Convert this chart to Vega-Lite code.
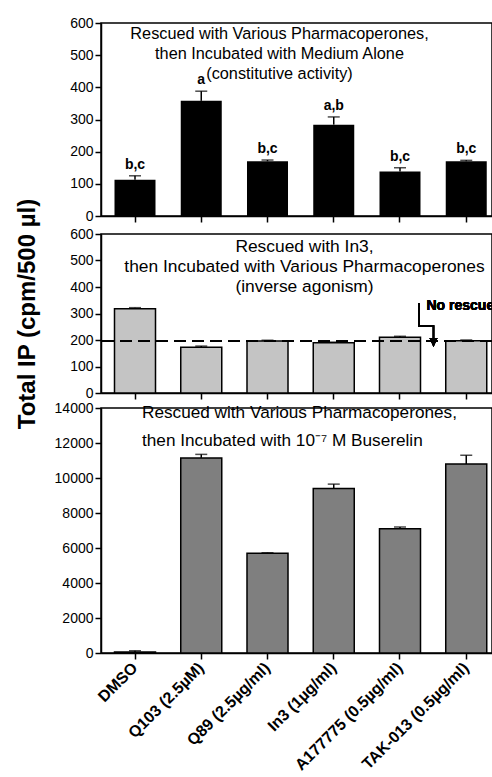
{
  "$schema": "https://vega.github.io/schema/vega-lite/v6.json",
  "padding": {"left": 14, "top": 15, "right": 0, "bottom": 0},
  "config": {
    "font": "Liberation Sans",
    "view": {"stroke": "black", "strokeWidth": 1.5},
    "axis": {"grid": false, "domainColor": "black", "domainWidth": 1.5, "tickColor": "black", "tickWidth": 1.5, "tickSize": 6, "labelColor": "black", "labelFontSize": 14, "labelFont": "Liberation Sans", "titleColor": "black", "labelPadding": 2},
    "title": {"color": "black", "font": "Liberation Sans", "fontWeight": "normal", "fontSize": 16}
  },
  "datasets": {
    "top": [
      {"drug": "DMSO", "value": 113, "hi": 125, "letter": "b,c"},
      {"drug": "Q103 (2.5µM)", "value": 358, "hi": 388, "letter": "a"},
      {"drug": "Q89 (2.5µg/ml)", "value": 170, "hi": 174, "letter": "b,c"},
      {"drug": "In3 (1µg/ml)", "value": 284, "hi": 308, "letter": "a,b"},
      {"drug": "A177775 (0.5µg/ml)", "value": 138, "hi": 150, "letter": "b,c"},
      {"drug": "TAK-013 (0.5µg/ml)", "value": 170, "hi": 173, "letter": "b,c"}
    ],
    "mid": [
      {"drug": "DMSO", "value": 318, "hi": 322},
      {"drug": "Q103 (2.5µM)", "value": 173, "hi": 177},
      {"drug": "Q89 (2.5µg/ml)", "value": 196, "hi": 199},
      {"drug": "In3 (1µg/ml)", "value": 190, "hi": 192},
      {"drug": "A177775 (0.5µg/ml)", "value": 210, "hi": 214},
      {"drug": "TAK-013 (0.5µg/ml)", "value": 197, "hi": 200}
    ],
    "bot": [
      {"drug": "DMSO", "value": 60, "hi": 130},
      {"drug": "Q103 (2.5µM)", "value": 11150, "hi": 11350},
      {"drug": "Q89 (2.5µg/ml)", "value": 5700, "hi": 5730},
      {"drug": "In3 (1µg/ml)", "value": 9400, "hi": 9650},
      {"drug": "A177775 (0.5µg/ml)", "value": 7100, "hi": 7200},
      {"drug": "TAK-013 (0.5µg/ml)", "value": 10800, "hi": 11300}
    ]
  },
  "bounds": "flush",
  "spacing": 18,
  "vconcat": [
    {
      "width": 391,
      "height": 193,
      "data": {"name": "top"},
      "title": {"text": ["Rescued with Various Pharmacoperones,", "then Incubated with Medium Alone", "(constitutive activity)"], "anchor": "middle", "frame": "group", "baseline": "top", "fontSize": 16.3, "lineHeight": 20, "offset": 0, "dx": -17, "dy": 66},
      "encoding": {
        "x": {"field": "drug", "type": "nominal", "sort": null, "scale": {"paddingInner": 0.381, "paddingOuter": 0.1415, "align": 0.72}, "axis": {"labels": false, "title": null}}
      },
      "layer": [
        {"mark": {"type": "bar", "color": "black"}, "encoding": {"y": {"field": "value", "type": "quantitative", "scale": {"domain": [0, 600], "nice": false}, "axis": {"values": [0, 100, 200, 300, 400, 500, 600], "title": null}}}},
        {"mark": {"type": "rule", "color": "black", "strokeWidth": 1.5}, "encoding": {"y": {"field": "value", "type": "quantitative", "axis": {"values": [0, 100, 200, 300, 400, 500, 600], "title": null}}, "y2": {"field": "hi"}}},
        {"mark": {"type": "tick", "color": "black", "thickness": 1.5, "size": 12}, "encoding": {"y": {"field": "hi", "type": "quantitative", "axis": {"values": [0, 100, 200, 300, 400, 500, 600], "title": null}}}},
        {"mark": {"type": "text", "fontWeight": "bold", "fontSize": 14, "baseline": "bottom", "dy": -4, "color": "black"}, "encoding": {"y": {"field": "hi", "type": "quantitative", "axis": {"values": [0, 100, 200, 300, 400, 500, 600], "title": null}}, "text": {"field": "letter"}}}
      ]
    },
    {
      "bounds": "flush",
      "spacing": 15,
      "vconcat": [
        {
          "width": 391,
          "height": 159,
          "data": {"name": "mid"},
          "title": {"text": ["Rescued with In3,", "then Incubated with Various Pharmacoperones", "(inverse agonism)"], "anchor": "middle", "frame": "group", "baseline": "top", "fontSize": 17.4, "lineHeight": 20, "offset": 0, "dx": 8, "dy": 97},
          "encoding": {
            "x": {"field": "drug", "type": "nominal", "sort": null, "scale": {"paddingInner": 0.381, "paddingOuter": 0.1415, "align": 0.72}, "axis": {"labels": false, "title": null}}
          },
          "layer": [
            {"mark": {"type": "bar", "color": "#c4c4c4", "stroke": "black", "strokeWidth": 1.5}, "encoding": {"y": {"field": "value", "type": "quantitative", "scale": {"domain": [0, 600], "nice": false}, "axis": {"values": [0, 100, 200, 300, 400, 500, 600], "title": "Total IP (cpm/500 µl)", "titleFontSize": 24, "titleFontWeight": "bold", "titlePadding": 30}}}},
            {"mark": {"type": "rule", "color": "black", "strokeWidth": 1.5}, "encoding": {"y": {"field": "value", "type": "quantitative", "axis": {"values": [0, 100, 200, 300, 400, 500, 600], "title": "Total IP (cpm/500 µl)", "titleFontSize": 24, "titleFontWeight": "bold", "titlePadding": 30}}, "y2": {"field": "hi"}}},
            {"mark": {"type": "tick", "color": "black", "thickness": 1.5, "size": 12}, "encoding": {"y": {"field": "hi", "type": "quantitative", "axis": {"values": [0, 100, 200, 300, 400, 500, 600], "title": "Total IP (cpm/500 µl)", "titleFontSize": 24, "titleFontWeight": "bold", "titlePadding": 30}}}},
            {"mark": {"type": "rule", "color": "black", "strokeWidth": 1.5, "strokeDash": [12, 6]}, "encoding": {"y": {"datum": 195, "type": "quantitative", "axis": {"values": [0, 100, 200, 300, 400, 500, 600], "title": "Total IP (cpm/500 µl)", "titleFontSize": 24, "titleFontWeight": "bold", "titlePadding": 30}}, "x": null}},
            {"mark": {"type": "text", "text": "No rescue", "fontWeight": "bold", "fontSize": 14, "align": "left", "baseline": "middle", "dx": 6, "color": "black"}, "encoding": {"x": {"datum": "A177775 (0.5µg/ml)", "bandPosition": 1}, "y": {"datum": 328, "type": "quantitative", "axis": {"values": [0, 100, 200, 300, 400, 500, 600], "title": "Total IP (cpm/500 µl)", "titleFontSize": 24, "titleFontWeight": "bold", "titlePadding": 30}}}},
            {"mark": {"type": "point", "shape": "M-1.5,0 L-1.5,23 L13,23 L13,40", "size": 4, "filled": false, "stroke": "black", "strokeWidth": 1.5, "opacity": 1}, "encoding": {"x": {"datum": "A177775 (0.5µg/ml)", "bandPosition": 1}, "y": {"datum": 340, "type": "quantitative", "axis": {"values": [0, 100, 200, 300, 400, 500, 600], "title": "Total IP (cpm/500 µl)", "titleFontSize": 24, "titleFontWeight": "bold", "titlePadding": 30}}}},
            {"mark": {"type": "point", "shape": "M9,35 L13,44 L17,35 Z", "size": 4, "filled": true, "color": "black", "opacity": 1}, "encoding": {"x": {"datum": "A177775 (0.5µg/ml)", "bandPosition": 1}, "y": {"datum": 340, "type": "quantitative", "axis": {"values": [0, 100, 200, 300, 400, 500, 600], "title": "Total IP (cpm/500 µl)", "titleFontSize": 24, "titleFontWeight": "bold", "titlePadding": 30}}}}
          ]
        },
        {
          "width": 391,
          "height": 245,
          "data": {"name": "bot"},
          "title": {"text": ["Rescued with Various Pharmacoperones,", "then Incubated with 10⁻⁷ M Buserelin"], "anchor": "start", "frame": "group", "baseline": "top", "fontSize": 17.2, "lineHeight": 28, "offset": 0, "dx": 41, "dy": 48},
          "encoding": {
            "x": {"field": "drug", "type": "nominal", "sort": null, "scale": {"paddingInner": 0.381, "paddingOuter": 0.1415, "align": 0.72}, "axis": {"title": null, "labelAngle": -45, "labelAlign": "right", "labelBaseline": "middle", "labelFontWeight": "bold", "labelFontSize": 16, "labelPadding": 6}}
          },
          "layer": [
            {"mark": {"type": "bar", "color": "#7f7f7f", "stroke": "black", "strokeWidth": 1.5}, "encoding": {"y": {"field": "value", "type": "quantitative", "scale": {"domain": [0, 14000], "nice": false}, "axis": {"values": [0, 2000, 4000, 6000, 8000, 10000, 12000, 14000], "format": "d", "title": null}}}},
            {"mark": {"type": "rule", "color": "black", "strokeWidth": 1.5}, "encoding": {"y": {"field": "value", "type": "quantitative", "axis": {"values": [0, 2000, 4000, 6000, 8000, 10000, 12000, 14000], "format": "d", "title": null}}, "y2": {"field": "hi"}}},
            {"mark": {"type": "tick", "color": "black", "thickness": 1.5, "size": 12}, "encoding": {"y": {"field": "hi", "type": "quantitative", "axis": {"values": [0, 2000, 4000, 6000, 8000, 10000, 12000, 14000], "format": "d", "title": null}}}}
          ]
        }
      ]
    }
  ]
}
